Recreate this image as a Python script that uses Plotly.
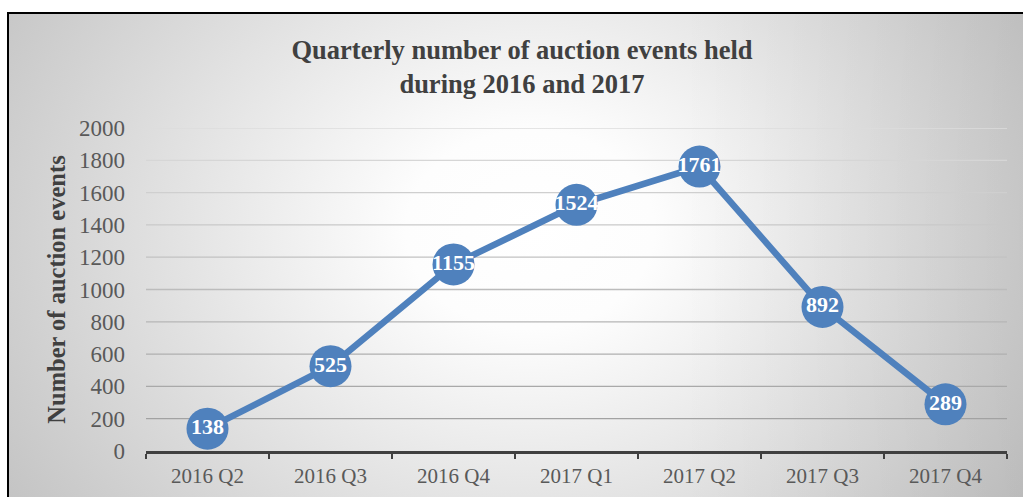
import base64
import plotly.graph_objects as go

quarters = ["2016 Q2", "2016 Q3", "2016 Q4", "2017 Q1", "2017 Q2", "2017 Q3", "2017 Q4"]
events = [138, 525, 1155, 1524, 1761, 892, 289]
y_ticks = [0, 200, 400, 600, 800, 1000, 1200, 1400, 1600, 1800, 2000]

W, H = 1023, 497
L, R, T, B = 146, 16, 128, 46
pw, ph = W - L - R, H - T - B

svg = f'''<svg xmlns="http://www.w3.org/2000/svg" width="{W}" height="{H}" viewBox="0 0 {W} {H}">
<defs>
<radialGradient id="g" gradientUnits="userSpaceOnUse" cx="530" cy="230" r="620" gradientTransform="translate(530 230) scale(1 0.8) translate(-530 -230)">
<stop offset="0" stop-color="#ffffff"/><stop offset="0.2" stop-color="#fdfdfd"/><stop offset="1" stop-color="#c4c4c4"/></radialGradient>
<linearGradient id="d" gradientUnits="userSpaceOnUse" x1="680" y1="0" x2="{W}" y2="0">
<stop offset="0" stop-color="#000" stop-opacity="0"/><stop offset="1" stop-color="#000" stop-opacity="0.06"/></linearGradient>
</defs>
<rect x="0" y="0" width="{W}" height="{H}" fill="#ffffff"/>
<rect x="8" y="13" width="{W-8}" height="{H-13}" fill="url(#g)"/>
<rect x="8" y="13" width="{W-8}" height="{H-13}" fill="url(#d)"/>
</svg>'''
src = "data:image/svg+xml;base64," + base64.b64encode(svg.encode()).decode()


def grid_color(v):
    f = v / 2000
    c = int(round(0x9c + f * (0xdc - 0x9c)))
    return f"rgb({c},{c},{c})"


fig = go.Figure()

for v in y_ticks[1:]:
    fig.add_shape(type="line", xref="paper", yref="y", x0=0, x1=1, y0=v, y1=v,
                  line=dict(color=grid_color(v), width=1.3), layer="below")

fig.add_trace(go.Scatter(
    x=quarters, y=events, mode="lines+markers+text",
    line=dict(color="#4F81BD", width=6.5),
    marker=dict(size=42, color="#4F81BD"),
    text=[str(v) for v in events], textposition="middle center",
    textfont=dict(family="Liberation Serif", size=22, color="white", weight="bold"),
    cliponaxis=False, hoverinfo="skip", showlegend=False,
))

fig.add_layout_image(dict(
    source=src, xref="paper", yref="paper",
    x=-L / pw, y=1 + T / ph, sizex=W / pw, sizey=H / ph,
    xanchor="left", yanchor="top", sizing="stretch", layer="below",
))

fig.add_shape(type="rect", xref="paper", yref="paper",
              x0=(8 - L) / pw, x1=(W + 5 - L) / pw,
              y0=-(B + 10) / ph, y1=1 + (T - 13) / ph,
              line=dict(color="black", width=2), fillcolor="rgba(0,0,0,0)", layer="above")

fig.update_layout(
    width=W, height=H,
    margin=dict(l=L, r=R, t=T, b=B),
    paper_bgcolor="white", plot_bgcolor="rgba(0,0,0,0)",
    font=dict(family="Liberation Serif", color="#595959"),
    title=dict(text="<b>Quarterly number of auction events held<br>during 2016 and 2017</b>",
               x=522 / W, xanchor="center", y=1 - 59 / H, yanchor="middle",
               font=dict(family="Liberation Serif", size=26.5, color="#404040")),
    xaxis=dict(type="category", range=[-0.5, 6.5], showgrid=False, automargin=False,
               showline=True, linecolor="#404040", linewidth=3,
               ticks="outside", ticklen=5, tickwidth=2, tickcolor="#404040",
               tickson="boundaries", ticklabelstandoff=4,
               tickfont=dict(family="Liberation Serif", size=21, color="#595959")),
    yaxis=dict(range=[0, 2000], tickvals=y_ticks, showgrid=False, automargin=False,
               zeroline=False, showline=False,
               ticks="", ticklabelstandoff=20,
               tickfont=dict(family="Liberation Serif", size=23, color="#595959"),
               title=dict(text="<b>Number of auction events</b>", standoff=6,
                          font=dict(family="Liberation Serif", size=24.5, color="#404040"))),
)

fig.write_html("out.html", config={"displayModeBar": False},
               post_script="document.body.style.margin='0';")
